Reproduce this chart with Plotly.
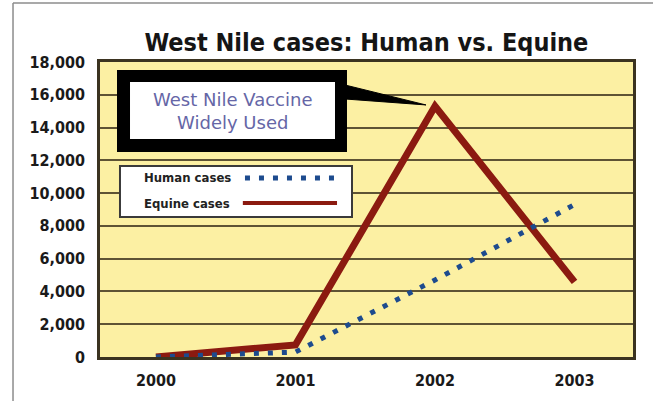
import plotly.graph_objects as go

# Reported West Nile virus cases by year
years = [2000, 2001, 2002, 2003]
human_cases = [0, 300, 4700, 9300]
equine_cases = [0, 740, 15300, 4580]
y_ticks = [0, 2000, 4000, 6000, 8000, 10000, 12000, 14000, 16000, 18000]

title_text = "West Nile cases: Human vs. Equine"
callout_text = "West Nile Vaccine<br>Widely Used"
legend_labels = ["Human cases", "Equine cases"]

HUMAN_COLOR = "#1d4b8e"
EQUINE_COLOR = "#8b1a10"
BOLD_FONT = "DejaVu Sans Condensed"

X_RANGE = [1999.599, 2003.419]
Y_RANGE = [0, 18000]


def px_x(p):
    """paper fraction -> x data value"""
    return X_RANGE[0] + p * (X_RANGE[1] - X_RANGE[0])


def px_y(p):
    """paper fraction -> y data value"""
    return Y_RANGE[0] + p * (Y_RANGE[1] - Y_RANGE[0])


fig = go.Figure()

fig.add_trace(go.Scatter(
    x=years, y=equine_cases, mode="lines", name=legend_labels[1],
    line=dict(color=EQUINE_COLOR, width=7), showlegend=False,
))
fig.add_trace(go.Scatter(
    x=years, y=human_cases, mode="lines", name=legend_labels[0],
    line=dict(color=HUMAN_COLOR, width=5, dash="5px,9px"), showlegend=False,
))

shapes = []
# outer page frame (left and top rules)
shapes.append(dict(type="line", xref="paper", yref="paper", x0=-0.1632, x1=-0.1632,
                   y0=1.2, y1=-0.2, line=dict(color="#8c8c8c", width=1.5), layer="above"))
shapes.append(dict(type="line", xref="paper", yref="paper", x0=-0.1632, x1=1.1,
                   y0=1.2, y1=1.2, line=dict(color="#8c8c8c", width=1.5), layer="above"))

# callout box: thick black frame with white interior
shapes.append(dict(type="rect", xref="paper", yref="paper", x0=0.0319, x1=0.4634,
                   y0=0.6949, y1=0.9729, fillcolor="#000000", line=dict(width=0), layer="above"))
shapes.append(dict(type="rect", xref="paper", yref="paper", x0=0.0563, x1=0.4409,
                   y0=0.7390, y1=0.9322, fillcolor="#ffffff", line=dict(width=0), layer="above"))

# tapered pointer from callout to the equine peak
peak_i = equine_cases.index(max(equine_cases))
tip_x = years[peak_i] - 0.065
tip_y = equine_cases[peak_i] + 80
bx = px_x(0.4597)
shapes.append(dict(
    type="path", xref="x", yref="y",
    path=f"M {bx},{px_y(0.9220)} L {tip_x},{tip_y} L {bx},{px_y(0.8746)} Z",
    fillcolor="#000000", line=dict(color="#000000", width=1), layer="above",
))

# legend box
shapes.append(dict(type="rect", xref="paper", yref="paper", x0=0.0375, x1=0.4728,
                   y0=0.4746, y1=0.6475, fillcolor="#ffffff",
                   line=dict(color="#3a3a3a", width=2), layer="above"))
shapes.append(dict(type="line", xref="paper", yref="paper", x0=0.2720, x1=0.4503,
                   y0=0.6068, y1=0.6068,
                   line=dict(color=HUMAN_COLOR, width=5, dash="5px,9px"), layer="above"))
shapes.append(dict(type="line", xref="paper", yref="paper", x0=0.2680, x1=0.4447,
                   y0=0.5220, y1=0.5220,
                   line=dict(color=EQUINE_COLOR, width=4), layer="above"))

annotations = [
    dict(text=callout_text, xref="paper", yref="paper", x=0.2477, y=0.8339,
         showarrow=False, xanchor="center", yanchor="middle", align="center",
         font=dict(family="DejaVu Sans", size=18, color="#6566a6")),
    dict(text=legend_labels[0], xref="paper", yref="paper", x=0.0788, y=0.6068,
         showarrow=False, xanchor="left", yanchor="middle",
         font=dict(family=BOLD_FONT, size=13, color="#222222", weight="bold")),
    dict(text=legend_labels[1], xref="paper", yref="paper", x=0.0788, y=0.5220,
         showarrow=False, xanchor="left", yanchor="middle",
         font=dict(family=BOLD_FONT, size=13, color="#222222", weight="bold")),
]

fig.update_layout(
    width=653, height=401,
    margin=dict(l=100, r=20, t=62, b=44),
    paper_bgcolor="#ffffff",
    plot_bgcolor="#fcf0a3",
    title=dict(text=title_text, x=0.4998, xref="paper", xanchor="center",
               y=1 - 42 / 401, yref="container", yanchor="middle",
               font=dict(family=BOLD_FONT, size=25, color="#151515", weight="bold")),
    shapes=shapes,
    annotations=annotations,
    showlegend=False,
)

fig.update_xaxes(
    range=X_RANGE, tickvals=years, ticktext=[str(y) for y in years],
    showgrid=False, zeroline=False,
    showline=True, mirror=True, linecolor="#3b3320", linewidth=2.5,
    ticks="outside", ticklen=7, tickcolor="rgba(0,0,0,0)",
    tickfont=dict(family=BOLD_FONT, size=16, color="#1a1a1a", weight="bold"),
)
fig.update_yaxes(
    range=Y_RANGE, tickvals=y_ticks, tickformat=",d",
    showgrid=True, gridcolor="#5e5334", gridwidth=2, zeroline=False,
    showline=True, mirror=True, linecolor="#3b3320", linewidth=2.5,
    ticks="outside", ticklen=9, tickcolor="rgba(0,0,0,0)",
    tickfont=dict(family=BOLD_FONT, size=16, color="#1a1a1a", weight="bold"),
)

fig.write_html("out.html")
